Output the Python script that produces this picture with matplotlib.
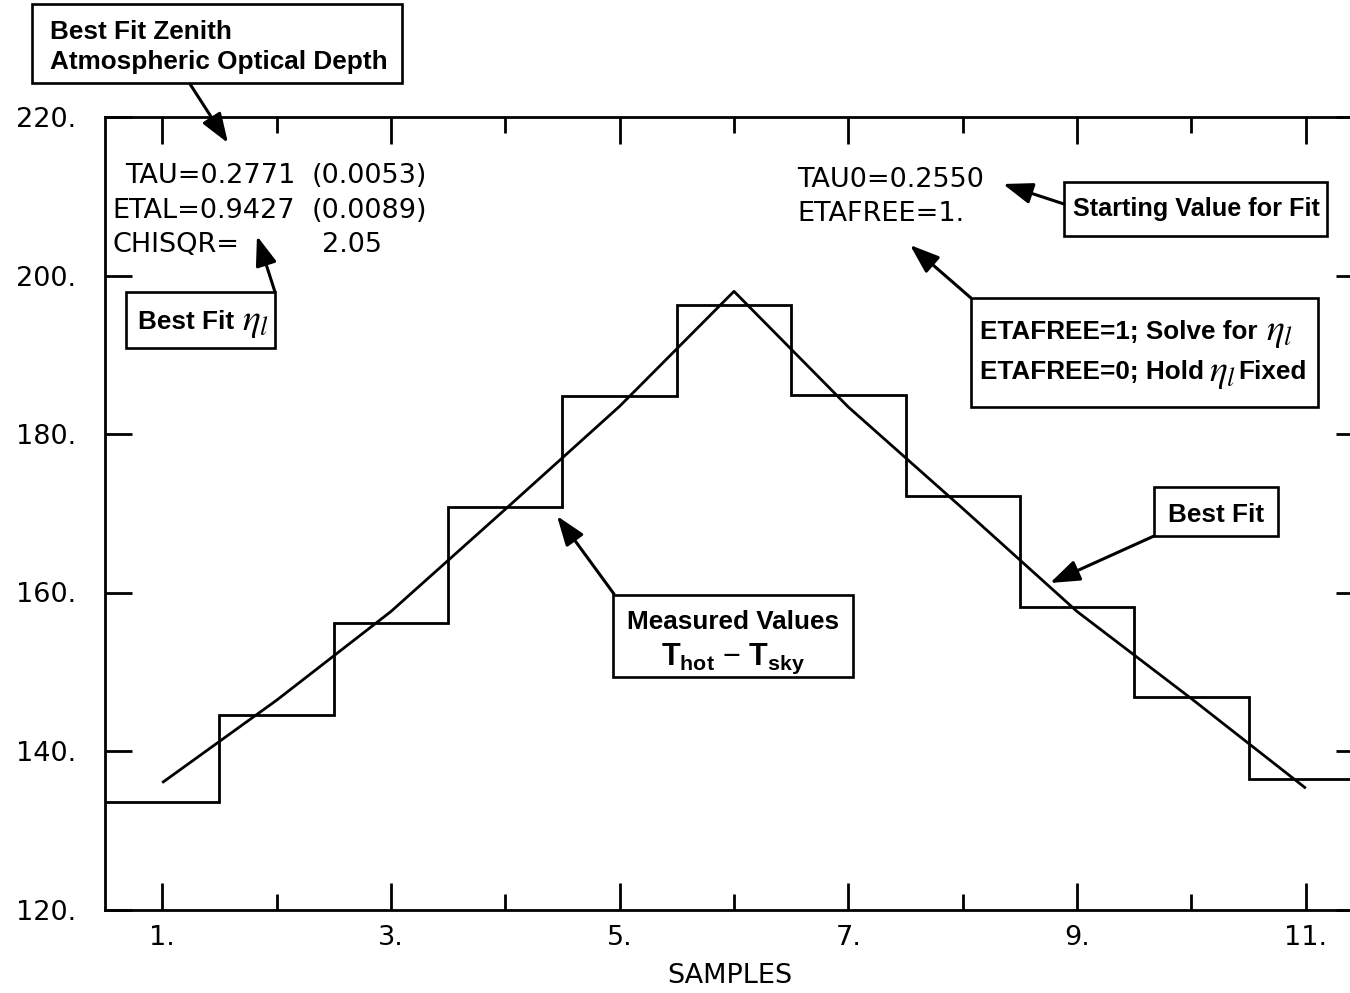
import numpy as np
import matplotlib
matplotlib.use("Agg")
import matplotlib.pyplot as plt
from matplotlib.patches import Rectangle, FancyArrowPatch

# ---- data -------------------------------------------------------------
samples = [1, 2, 3, 4, 5, 6, 7, 8, 9, 10, 11]
measured = [133.6, 144.5, 156.2, 170.8, 184.8, 196.3, 184.9, 172.2, 158.2, 146.8, 136.5]
best_fit = [136.0, 146.4, 157.6, 170.5, 183.5, 198.0, 183.4, 170.6, 157.6, 146.6, 135.3]

x_major = [1, 3, 5, 7, 9, 11]
x_major_labels = ["1.", "3.", "5.", "7.", "9.", "11."]
x_minor = [2, 4, 6, 8, 10]
y_ticks = [120, 140, 160, 180, 200, 220]
y_tick_labels = ["120.", "140.", "160.", "180.", "200.", "220."]

# ---- figure -----------------------------------------------------------
W, H = 1350, 993
plt.rcParams["font.family"] = ["DejaVu Sans"]
plt.rcParams["mathtext.fontset"] = "custom"
plt.rcParams["mathtext.bf"] = "Liberation Sans:bold"
plt.rcParams["mathtext.rm"] = "Liberation Sans"
plt.rcParams["mathtext.it"] = "Liberation Sans:italic"

fig = plt.figure(figsize=(W / 100, H / 100), dpi=100)
ax_l, ax_r, ax_t, ax_b = 105, 1363, 117, 909.5
ax = fig.add_axes([ax_l / W, 1 - ax_b / H, (ax_r - ax_l) / W, (ax_b - ax_t) / H])

edges = np.r_[samples[0] - 0.5, np.array(samples) + 0.5]
ax.stairs(measured, edges, baseline=None, color="black", lw=2.0)
ax.plot(samples, best_fit, color="black", lw=2.0, solid_capstyle="butt")

ax.set_xlim(edges[0], edges[-1])
ax.set_ylim(120, 220)
ax.set_xticks(x_major)
ax.set_xticklabels(x_major_labels)
ax.set_xticks(x_minor, minor=True)
ax.set_yticks(y_ticks)
ax.set_yticklabels(y_tick_labels)

for s in ax.spines.values():
    s.set_linewidth(2.0)
ax.tick_params(axis="x", which="major", direction="in", length=19.5, width=2.0,
               top=True, bottom=True, labelsize=19.5, pad=11)
ax.tick_params(axis="x", which="minor", direction="in", length=11.5, width=2.0,
               top=True, bottom=True)
ax.tick_params(axis="y", which="major", direction="in", length=19.5, width=2.0,
               left=True, right=True, labelsize=19.5, pad=21)
ax.set_xlabel("SAMPLES", fontsize=19.5, labelpad=4)
ax.xaxis.set_label_coords((730 - ax_l) / (ax_r - ax_l), (ax_b - 989) / (ax_b - ax_t))
ax.xaxis.label.set_va("bottom")

# ---- annotation helpers (positions given in pixels from the top-left) ---
BOLD = dict(family="Liberation Sans", weight="bold", size=18.8)
REG = dict(family="DejaVu Sans", size=19.5)


def ftext(x, y, s, **kw):
    kw.setdefault("va", "baseline")
    return fig.text(x / W, 1 - y / H, s, **kw)


def box(x0, y0, x1, y1):
    fig.add_artist(Rectangle((x0 / W, 1 - y1 / H), (x1 - x0) / W, (y1 - y0) / H,
                             transform=fig.transFigure, fill=True, facecolor="white",
                             edgecolor="black", lw=1.9, zorder=3))


def arrow(tail, tip):
    fig.add_artist(FancyArrowPatch((tail[0] / W, 1 - tail[1] / H), (tip[0] / W, 1 - tip[1] / H),
                                   transform=fig.transFigure,
                                   arrowstyle="-|>,head_length=1.0,head_width=0.36",
                                   mutation_scale=18, lw=2.2, color="black",
                                   shrinkA=0, shrinkB=0, zorder=4))


renderer = fig.canvas.get_renderer()


def right_px(t):
    return t.get_window_extent(renderer).x1


def eta(x, y, size=27):
    return ftext(x, y, r"$\eta_l$", size=size, math_fontfamily="stix", zorder=5)


# fit results
ftext(125, 183, "TAU=0.2771", **REG)
ftext(312, 183, "(0.0053)", **REG)
ftext(112, 218, "ETAL=0.9427", **REG)
ftext(312, 218, "(0.0089)", **REG)
ftext(112, 252, "CHISQR=", **REG)
ftext(322, 252, "2.05", **REG)

ftext(797, 187, "TAU0=0.2550", **REG)
ftext(797, 221, "ETAFREE=1.", **REG)

# Best fit zenith optical depth
box(32, 4, 402, 83)
ftext(50, 39, "Best Fit Zenith", zorder=5, **BOLD)
ftext(50, 69, "Atmospheric Optical Depth", zorder=5, **BOLD)
arrow((190, 84), (228, 143))

# Best fit eta
box(126, 292, 275, 348)
t = ftext(138, 329, "Best Fit", zorder=5, **BOLD)
eta(right_px(t) + 8, 330)
arrow((275, 292), (257, 236))

# Starting value
box(1064, 182, 1327, 236)
ftext(1196, 216, "Starting Value for Fit", ha="center", zorder=5,
      family="Liberation Sans", weight="bold", size=18.2)
arrow((1064, 204), (1003, 184))

# ETAFREE switch
box(971, 298, 1318, 407)
t = ftext(980, 339, "ETAFREE=1; Solve for", zorder=5, **BOLD)
eta(right_px(t) + 9, 340)
t = ftext(980, 379, "ETAFREE=0; Hold", zorder=5, **BOLD)
e = eta(right_px(t) + 5, 381)
ftext(right_px(e) + 2, 379, "Fixed", zorder=5, **BOLD)
arrow((971, 298), (910, 245))

# Best fit curve
box(1154, 487, 1278, 536)
ftext(1216, 522, "Best Fit", ha="center", zorder=5, **BOLD)
arrow((1154, 536), (1050, 583))

# Measured values
box(613, 595, 853, 677)
ftext(733, 629, "Measured Values", ha="center", zorder=5, **BOLD)
ftext(733, 665, r"$\mathbf{T}_{\mathbf{hot}}$ $-$ $\mathbf{T}_{\mathbf{sky}}$",
      ha="center", zorder=5, family="Liberation Sans", weight="bold", size=22)
arrow((614, 594), (557, 516))

fig.savefig("out.png", dpi=100)
